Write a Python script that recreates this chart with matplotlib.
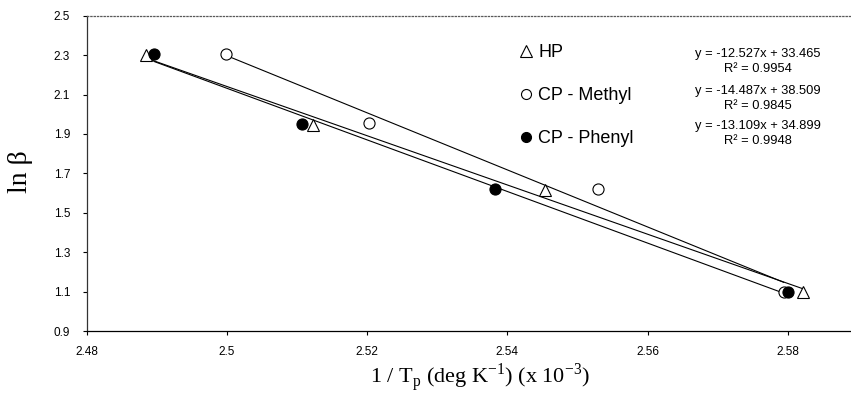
import numpy as np
import matplotlib
matplotlib.use("Agg")
from matplotlib import pyplot as plt

# data (x in 1e-3 / K, y = ln beta)
hp_x = [2.4885, 2.5123, 2.5453, 2.5822]
hp_y = [2.30, 1.945, 1.615, 1.10]
methyl_x = [2.4999, 2.5202, 2.5529, 2.5794]
methyl_y = [2.305, 1.955, 1.62, 1.10]
phenyl_x = [2.4896, 2.5107, 2.5382, 2.5800]
phenyl_y = [2.305, 1.95, 1.62, 1.10]

labels = ["HP", "CP - Methyl", "CP - Phenyl"]
slopes = [-12.527, -14.487, -13.109]
intercepts = [33.465, 38.509, 34.899]
r_squared = [0.9954, 0.9845, 0.9948]

x_ticks = [2.48, 2.5, 2.52, 2.54, 2.56, 2.58]
x_tick_labels = ["2.48", "2.5", "2.52", "2.54", "2.56", "2.58"]
y_ticks = [0.9, 1.1, 1.3, 1.5, 1.7, 1.9, 2.1, 2.3, 2.5]

plt.rcParams['font.family'] = ['Liberation Sans', 'DejaVu Sans']
plt.rcParams['mathtext.fontset'] = 'custom'
plt.rcParams['mathtext.rm'] = 'Liberation Serif'

fig = plt.figure(figsize=(8.51, 4.05), dpi=100)
ax = fig.add_axes([0.1019, 0.1827, 0.8981, 0.7785])

series = [(hp_x, hp_y, '^', 'white'),
          (methyl_x, methyl_y, 'o', 'white'),
          (phenyl_x, phenyl_y, 'o', 'black')]

handles = []
for (xs, ys, mk, face), lab in zip(series, labels):
    xs = np.array(xs)
    ys = np.array(ys)
    # linear trend line over the range of the series
    k, b = np.polyfit(xs, ys, 1)
    xl = np.array([xs.min(), xs.max()])
    ax.plot(xl, k * xl + b, color='black', lw=0.8, zorder=2)
    ms = 9 if mk == '^' else 8
    h, = ax.plot(xs, ys, linestyle='none', marker=mk, ms=ms,
                 mfc=face, mec='black', mew=0.8, zorder=3, label=lab)
    handles.append(h)

ax.legend(handles=handles, loc='upper left', bbox_to_anchor=(0.566, 0.91),
          frameon=False, fontsize=13, handlelength=0.7, handletextpad=0.35,
          labelspacing=1.45, borderpad=0, borderaxespad=0, markerscale=0.9)

eq_y = [0.855, 0.737, 0.627]
for k, b, r2, yy in zip(slopes, intercepts, r_squared, eq_y):
    txt = "y = %.3fx + %.3f\nR² = %.4f" % (k, b, r2)
    ax.text(0.878, yy, txt, transform=ax.transAxes, ha='center',
            va='center', fontsize=9.3, linespacing=1.3)

ax.set_xlim(2.48, 2.589)
ax.set_ylim(0.9, 2.5)
ax.set_xticks(x_ticks)
ax.set_xticklabels(x_tick_labels)
ax.set_yticks(y_ticks)
ax.set_yticklabels(["%.1f" % v for v in y_ticks])
ax.tick_params(axis='both', direction='out', length=3, width=0.8,
               labelsize=8.5, colors='black')
ax.tick_params(axis='x', pad=8)
ax.tick_params(axis='y', pad=9)

ax.spines['right'].set_visible(False)
ax.spines['top'].set_linestyle(':')
ax.spines['top'].set_color('0.35')
ax.spines['left'].set_color('0.2')
ax.spines['bottom'].set_color('black')
for s in ax.spines.values():
    s.set_linewidth(0.9)

ax.set_ylabel("ln β", family='Liberation Serif', fontsize=20)
ax.yaxis.set_label_coords(-0.07, 0.505)
ax.set_xlabel(r"1 / T$_\mathrm{p}$ (deg K$^\mathrm{-1}$) (x 10$^\mathrm{-3}$)",
              family='Liberation Serif', fontsize=16)
ax.xaxis.set_label_coords(0.515, -0.095)

fig.savefig("out.png", dpi=100)
